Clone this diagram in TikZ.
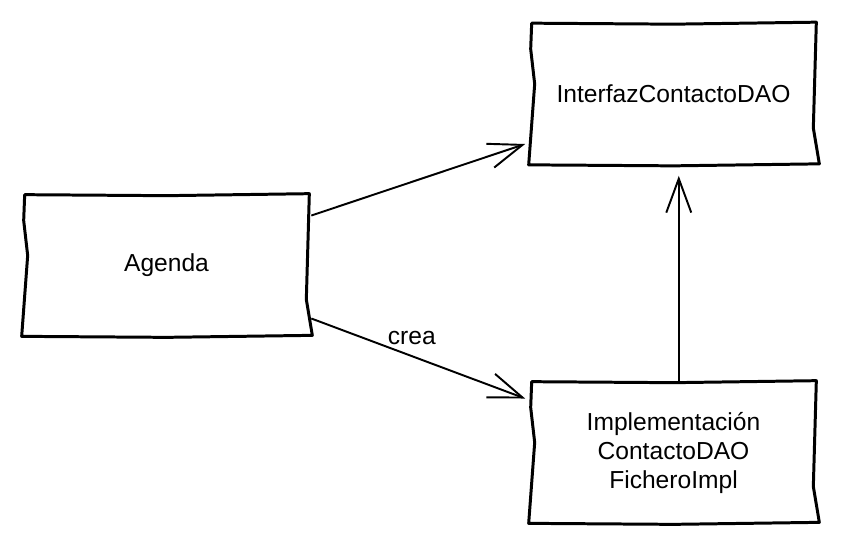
\documentclass[tikz,border=0pt]{standalone}
\usepackage{fontspec}
\setmainfont{Liberation Sans}
\usetikzlibrary{arrows.meta}

\tikzset{
  classbox/.style={minimum width=5.78cm, minimum height=2.82cm, align=center,
    inner sep=0pt, font=\fontsize{14}{16.5}\selectfont},
  roughline/.style={line width=1.7pt, line join=round},
  assoc/.style={line width=1.1pt, -{Straight Barb[length=0.68cm, width=0.5cm, line width=1.1pt]}}
}
\newcommand{\roughbox}[1]{%
  \draw[roughline] ([shift={(3,0)}]#1.north west) -- ([shift={(0,1)}]#1.north)
    -- ([shift={(-2,-1)}]#1.north east) -- ([shift={(-5,34)}]#1.east)
    -- ([shift={(1,-1)}]#1.south east) -- ([shift={(0,1)}]#1.south)
    -- (#1.south west) -- ([shift={(6,-10)}]#1.west)
    -- ([shift={(2,-45)}]#1.west) -- cycle;}

\begin{document}
\begin{tikzpicture}[x=0.02cm, y=-0.02cm]
  \useasboundingbox (0,0) rectangle (841,549);
  \node[classbox] (agenda) at (166.5,265.5) {Agenda};
  \node[classbox] (iface) at (673.5,94) {InterfazContactoDAO};
  \node[classbox] (impl) at (673.5,452.5) {Implementación\\ContactoDAO\\FicheroImpl};
  \roughbox{agenda}
  \roughbox{iface}
  \roughbox{impl}
  \draw[assoc] ([yshift=1cm]agenda.east) -- ([yshift=-1cm,xshift=-2]iface.west);
  \draw[assoc] ([yshift=-1.06cm]agenda.east) -- ([yshift=1.08cm,xshift=-2]impl.west)
    node[pos=0.47, above=0.1cm, font=\fontsize{14}{16.5}\selectfont] (crea) {crea};
  \draw[assoc] ([xshift=3]impl.north) -- ([xshift=3,yshift=-0.22cm]iface.south);
\end{tikzpicture}
\end{document}
